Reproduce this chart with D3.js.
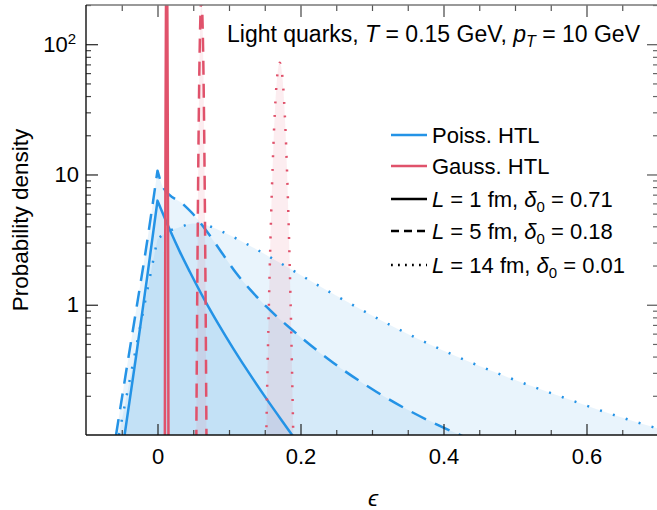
<!DOCTYPE html>
<html>
<head>
<meta charset="utf-8">
<script src="https://cdn.jsdelivr.net/npm/d3@7"></script>
<style>
  body { margin: 0; background: #fff; }
  svg { display: block; font-family: "Liberation Sans", Arial, Helvetica, sans-serif; }
</style>
</head>
<body>
<svg id="chart" width="657" height="510"></svg>
<script>
// ---- Poissonian HTL energy-loss distributions (left branch up to the peak at ε = 0, right branch after) ----
const poissL1LeftEps  = [-0.046, -0.03, -0.015, 0];
const poissL1LeftVal  = [0.1, 0.4, 1.55, 6.3];
const poissL1RightEps = [0, 0.018, 0.031, 0.045, 0.066, 0.085, 0.106, 0.13, 0.152, 0.185, 0.2];
const poissL1RightVal = [6.3, 3.68, 2.57, 1.8, 1.085, 0.713, 0.461, 0.288, 0.191, 0.106, 0.081];

const poissL5LeftEps  = [-0.058, -0.045, -0.03, -0.016, 0];
const poissL5LeftVal  = [0.1, 0.28, 0.9, 2.7, 10.7];
const poissL5RightEps = [0, 0.008, 0.036, 0.05, 0.066, 0.088, 0.11, 0.13, 0.152, 0.19, 0.241, 0.306, 0.348, 0.423, 0.44];
const poissL5RightVal = [10.7, 7.95, 5.9, 4.95, 3.85, 2.6, 1.75, 1.3, 0.97, 0.63, 0.375, 0.215, 0.158, 0.1, 0.091];

const poissL14LeftEps  = [-0.054, -0.04, -0.025, -0.01, 0];
const poissL14LeftVal  = [0.1, 0.245, 0.645, 1.69, 3.2];
const poissL14RightEps = [0, 0.015, 0.031, 0.05, 0.07, 0.087, 0.12, 0.171, 0.241, 0.313, 0.397, 0.483, 0.57, 0.657, 0.693, 0.72];
const poissL14RightVal = [3.2, 3.65, 3.93, 4.2, 4.05, 3.71, 3.02, 2.1, 1.25, 0.758, 0.452, 0.287, 0.192, 0.132, 0.115, 0.105];

// ---- Gaussian HTL energy-loss distributions ----
const gaussL1Eps  = [0.0098, 0.0103, 0.0108, 0.0113, 0.0118, 0.0123, 0.0128, 0.0133, 0.0138, 0.0143, 0.0148, 0.0153, 0.0158];
const gaussL1Val  = [0.0025, 0.11, 2.6, 29, 166, 470, 665, 470, 166, 29, 2.6, 0.11, 0.0025];

const gaussL5Eps  = [0.0539, 0.0544, 0.0554, 0.0564, 0.0574, 0.0584, 0.0594, 0.0604, 0.0614, 0.0624, 0.0634, 0.0644, 0.0654, 0.0664, 0.0674, 0.0684, 0.0689];
const gaussL5Val  = [0.038, 0.115, 0.85, 4.67, 18.7, 55, 119, 189, 221, 189, 119, 55, 18.7, 4.67, 0.85, 0.115, 0.038];

const gaussL14Eps = [0.151, 0.153, 0.155, 0.157, 0.159, 0.161, 0.163, 0.165, 0.167, 0.169, 0.171, 0.173, 0.175, 0.177, 0.179, 0.181, 0.183, 0.185, 0.187, 0.189, 0.191];
const gaussL14Val = [0.044, 0.18, 0.634, 1.92, 5.02, 11.3, 22.1, 37, 53.6, 66.9, 72, 66.9, 53.6, 37, 22.1, 11.3, 5.02, 1.92, 0.634, 0.18, 0.044];

// ---- axes ----
const xMajorTicks = [0, 0.2, 0.4, 0.6];
const xMajorLabels = ["0", "0.2", "0.4", "0.6"];
const xMinorTicks = [-0.05, 0.05, 0.1, 0.15, 0.25, 0.3, 0.35, 0.45, 0.5, 0.55, 0.65];
const yMajorTicks = [1, 10, 100];
const yMinorTicks = [0.2, 0.3, 0.4, 0.5, 0.6, 0.7, 0.8, 0.9, 2, 3, 4, 5, 6, 7, 8, 9, 20, 30, 40, 50, 60, 70, 80, 90, 200];

const blue = "#2493e6";
const red = "#e0526b";

const svg = d3.select("#chart");
const plotL = 86, plotR = 658, plotT = 5, plotB = 435;

const x = d3.scaleLinear().domain([-0.1, 0.7]).range([plotL, plotR]);
const y = d3.scaleLog().domain([0.1, 200]).range([plotB, plotT]);

svg.append("defs").append("clipPath").attr("id", "plotClip")
  .append("rect").attr("x", plotL).attr("y", plotT).attr("width", plotR - plotL).attr("height", plotB - plotT);

const line = d3.line().x(d => x(d[0])).y(d => y(d[1])).curve(d3.curveMonotoneX);
const pairs = (e, v) => e.map((k, i) => [k, v[i]]);

// path string for a two-branch curve joined at a sharp peak
function branchPath(le, lv, re, rv) {
  const a = line(pairs(le, lv));
  const b = line(pairs(re, rv)).replace(/^M/, "L");
  return a + b;
}
function closeToBottom(p, e0, e1) {
  return p + "L" + x(e1) + "," + plotB + "L" + x(e0) + "," + plotB + "Z";
}

const poissonSeries = [
  { le: poissL1LeftEps, lv: poissL1LeftVal, re: poissL1RightEps, rv: poissL1RightVal, dash: null },
  { le: poissL5LeftEps, lv: poissL5LeftVal, re: poissL5RightEps, rv: poissL5RightVal, dash: "16,10" },
  { le: poissL14LeftEps, lv: poissL14LeftVal, re: poissL14RightEps, rv: poissL14RightVal, dash: "2,11.5" }
];
const gaussSeries = [
  { e: gaussL1Eps, v: gaussL1Val, dash: null },
  { e: gaussL5Eps, v: gaussL5Val, dash: "14,9" },
  { e: gaussL14Eps, v: gaussL14Val, dash: "2,11.5" }
];

const plot = svg.append("g").attr("clip-path", "url(#plotClip)");

// filled areas
poissonSeries.forEach(s => {
  const p = branchPath(s.le, s.lv, s.re, s.rv);
  plot.append("path").attr("d", closeToBottom(p, s.le[0], s.re[s.re.length - 1]))
    .attr("fill", blue).attr("fill-opacity", 0.1).attr("stroke", "none");
});
gaussSeries.forEach(s => {
  const p = line(pairs(s.e, s.v));
  plot.append("path").attr("d", closeToBottom(p, s.e[0], s.e[s.e.length - 1]))
    .attr("fill", red).attr("fill-opacity", 0.1).attr("stroke", "none");
});

// curves
poissonSeries.forEach(s => {
  plot.append("path").attr("d", branchPath(s.le, s.lv, s.re, s.rv))
    .attr("fill", "none").attr("stroke", blue).attr("stroke-width", 2.5)
    .attr("stroke-linejoin", "round")
    .attr("stroke-dasharray", s.dash);
});
gaussSeries.forEach(s => {
  plot.append("path").attr("d", line(pairs(s.e, s.v)))
    .attr("fill", "none").attr("stroke", red).attr("stroke-width", 2.5)
    .attr("stroke-dasharray", s.dash);
});

// ---- frame and ticks ----
function styleAxis(g, color) {
  g.select(".domain").remove();
  g.selectAll(".tick line").attr("stroke", color).attr("stroke-width", 1.2);
  g.selectAll(".tick text").attr("fill", "#000").attr("font-size", 22);
}

const gb = svg.append("g").attr("transform", `translate(0,${plotB})`)
  .call(d3.axisBottom(x).tickValues(xMajorTicks).tickSize(-11).tickPadding(13)
    .tickFormat((d, i) => xMajorLabels[i]));
styleAxis(gb, "#222");
const gbm = svg.append("g").attr("transform", `translate(0,${plotB})`)
  .call(d3.axisBottom(x).tickValues(xMinorTicks).tickSize(-5).tickFormat(""));
styleAxis(gbm, "#444");

const gt = svg.append("g").attr("transform", `translate(0,${plotT})`)
  .call(d3.axisTop(x).tickValues(xMajorTicks).tickSize(-12).tickFormat(""));
styleAxis(gt, "#444");
const gtm = svg.append("g").attr("transform", `translate(0,${plotT})`)
  .call(d3.axisTop(x).tickValues(xMinorTicks).tickSize(-6).tickFormat(""));
styleAxis(gtm, "#555");

const gl = svg.append("g").attr("transform", `translate(${plotL},0)`)
  .call(d3.axisLeft(y).tickValues(yMajorTicks).tickSize(-12).tickPadding(7)
    .tickFormat(d => d === 100 ? "10" : String(d)));
styleAxis(gl, "#222");
gl.selectAll(".tick text").filter(d => d === 100)
  .attr("dx", -3)
  .append("tspan").attr("dy", "-0.5em").attr("font-size", 15).text("2");
const glm = svg.append("g").attr("transform", `translate(${plotL},0)`)
  .call(d3.axisLeft(y).tickValues(yMinorTicks).tickSize(-5).tickFormat(""));
styleAxis(glm, "#444");

const gr = svg.append("g").attr("transform", `translate(${plotR},0)`)
  .call(d3.axisRight(y).tickValues(yMajorTicks).tickSize(-11).tickFormat(""));
styleAxis(gr, "#555");
const grm = svg.append("g").attr("transform", `translate(${plotR},0)`)
  .call(d3.axisRight(y).tickValues(yMinorTicks).tickSize(-5).tickFormat(""));
styleAxis(grm, "#666");

// frame edges
svg.append("line").attr("x1", plotL).attr("x2", plotR).attr("y1", plotT).attr("y2", plotT)
  .attr("stroke", "#777").attr("stroke-width", 1.6);
svg.append("line").attr("x1", plotL).attr("x2", plotL).attr("y1", plotT).attr("y2", plotB)
  .attr("stroke", "#111").attr("stroke-width", 1.4);
svg.append("line").attr("x1", plotL).attr("x2", plotR).attr("y1", plotB).attr("y2", plotB)
  .attr("stroke", "#111").attr("stroke-width", 1.4);

// ---- axis titles ----
svg.append("text").attr("transform", "translate(28,220) rotate(-90)")
  .attr("text-anchor", "middle").attr("font-size", 22.5).text("Probability density");
svg.append("text").attr("x", 373).attr("y", 506).attr("text-anchor", "middle")
  .attr("font-size", 23).attr("font-style", "italic").text("ϵ");

// ---- header text ----
const title = svg.append("text").attr("x", 227).attr("y", 42).attr("font-size", 23);
title.append("tspan").text("Light quarks, ");
title.append("tspan").attr("font-style", "italic").text("T");
title.append("tspan").text(" = 0.15 GeV, ");
title.append("tspan").attr("font-style", "italic").text("p");
title.append("tspan").attr("font-style", "italic").attr("font-size", 16).attr("dy", 5).text("T");
title.append("tspan").attr("dy", -5).text(" = 10 GeV");

// ---- legend ----
const legendRows = [
  { color: blue, dash: null, label: [["Poiss. HTL", null]] },
  { color: red, dash: null, label: [["Gauss. HTL", null]] },
  { color: "#000", dash: null, label: [["L", "i"], [" = 1 fm, ", null], ["δ", "i"], ["0", "s"], [" = 0.71", "e"]] },
  { color: "#000", dash: "8,5", label: [["L", "i"], [" = 5 fm, ", null], ["δ", "i"], ["0", "s"], [" = 0.18", "e"]] },
  { color: "#000", dash: "1.8,5.2", label: [["L", "i"], [" = 14 fm, ", null], ["δ", "i"], ["0", "s"], [" = 0.01", "e"]] }
];
const legendY = [135, 166, 199, 231, 265];
const lg = svg.append("g");
legendRows.forEach((r, i) => {
  const yy = legendY[i];
  lg.append("line").attr("x1", 391).attr("x2", 427).attr("y1", yy).attr("y2", yy)
    .attr("stroke", r.color).attr("stroke-width", 2.5).attr("stroke-dasharray", r.dash);
  const t = lg.append("text").attr("x", 432).attr("y", yy + 8).attr("font-size", 22);
  r.label.forEach(([s, k]) => {
    const ts = t.append("tspan").text(s);
    if (k === "i") ts.attr("font-style", "italic");
    if (k === "s") ts.attr("font-size", 15).attr("dy", 5);
    if (k === "e") ts.attr("dy", -5);
  });
});
</script>
</body>
</html>
